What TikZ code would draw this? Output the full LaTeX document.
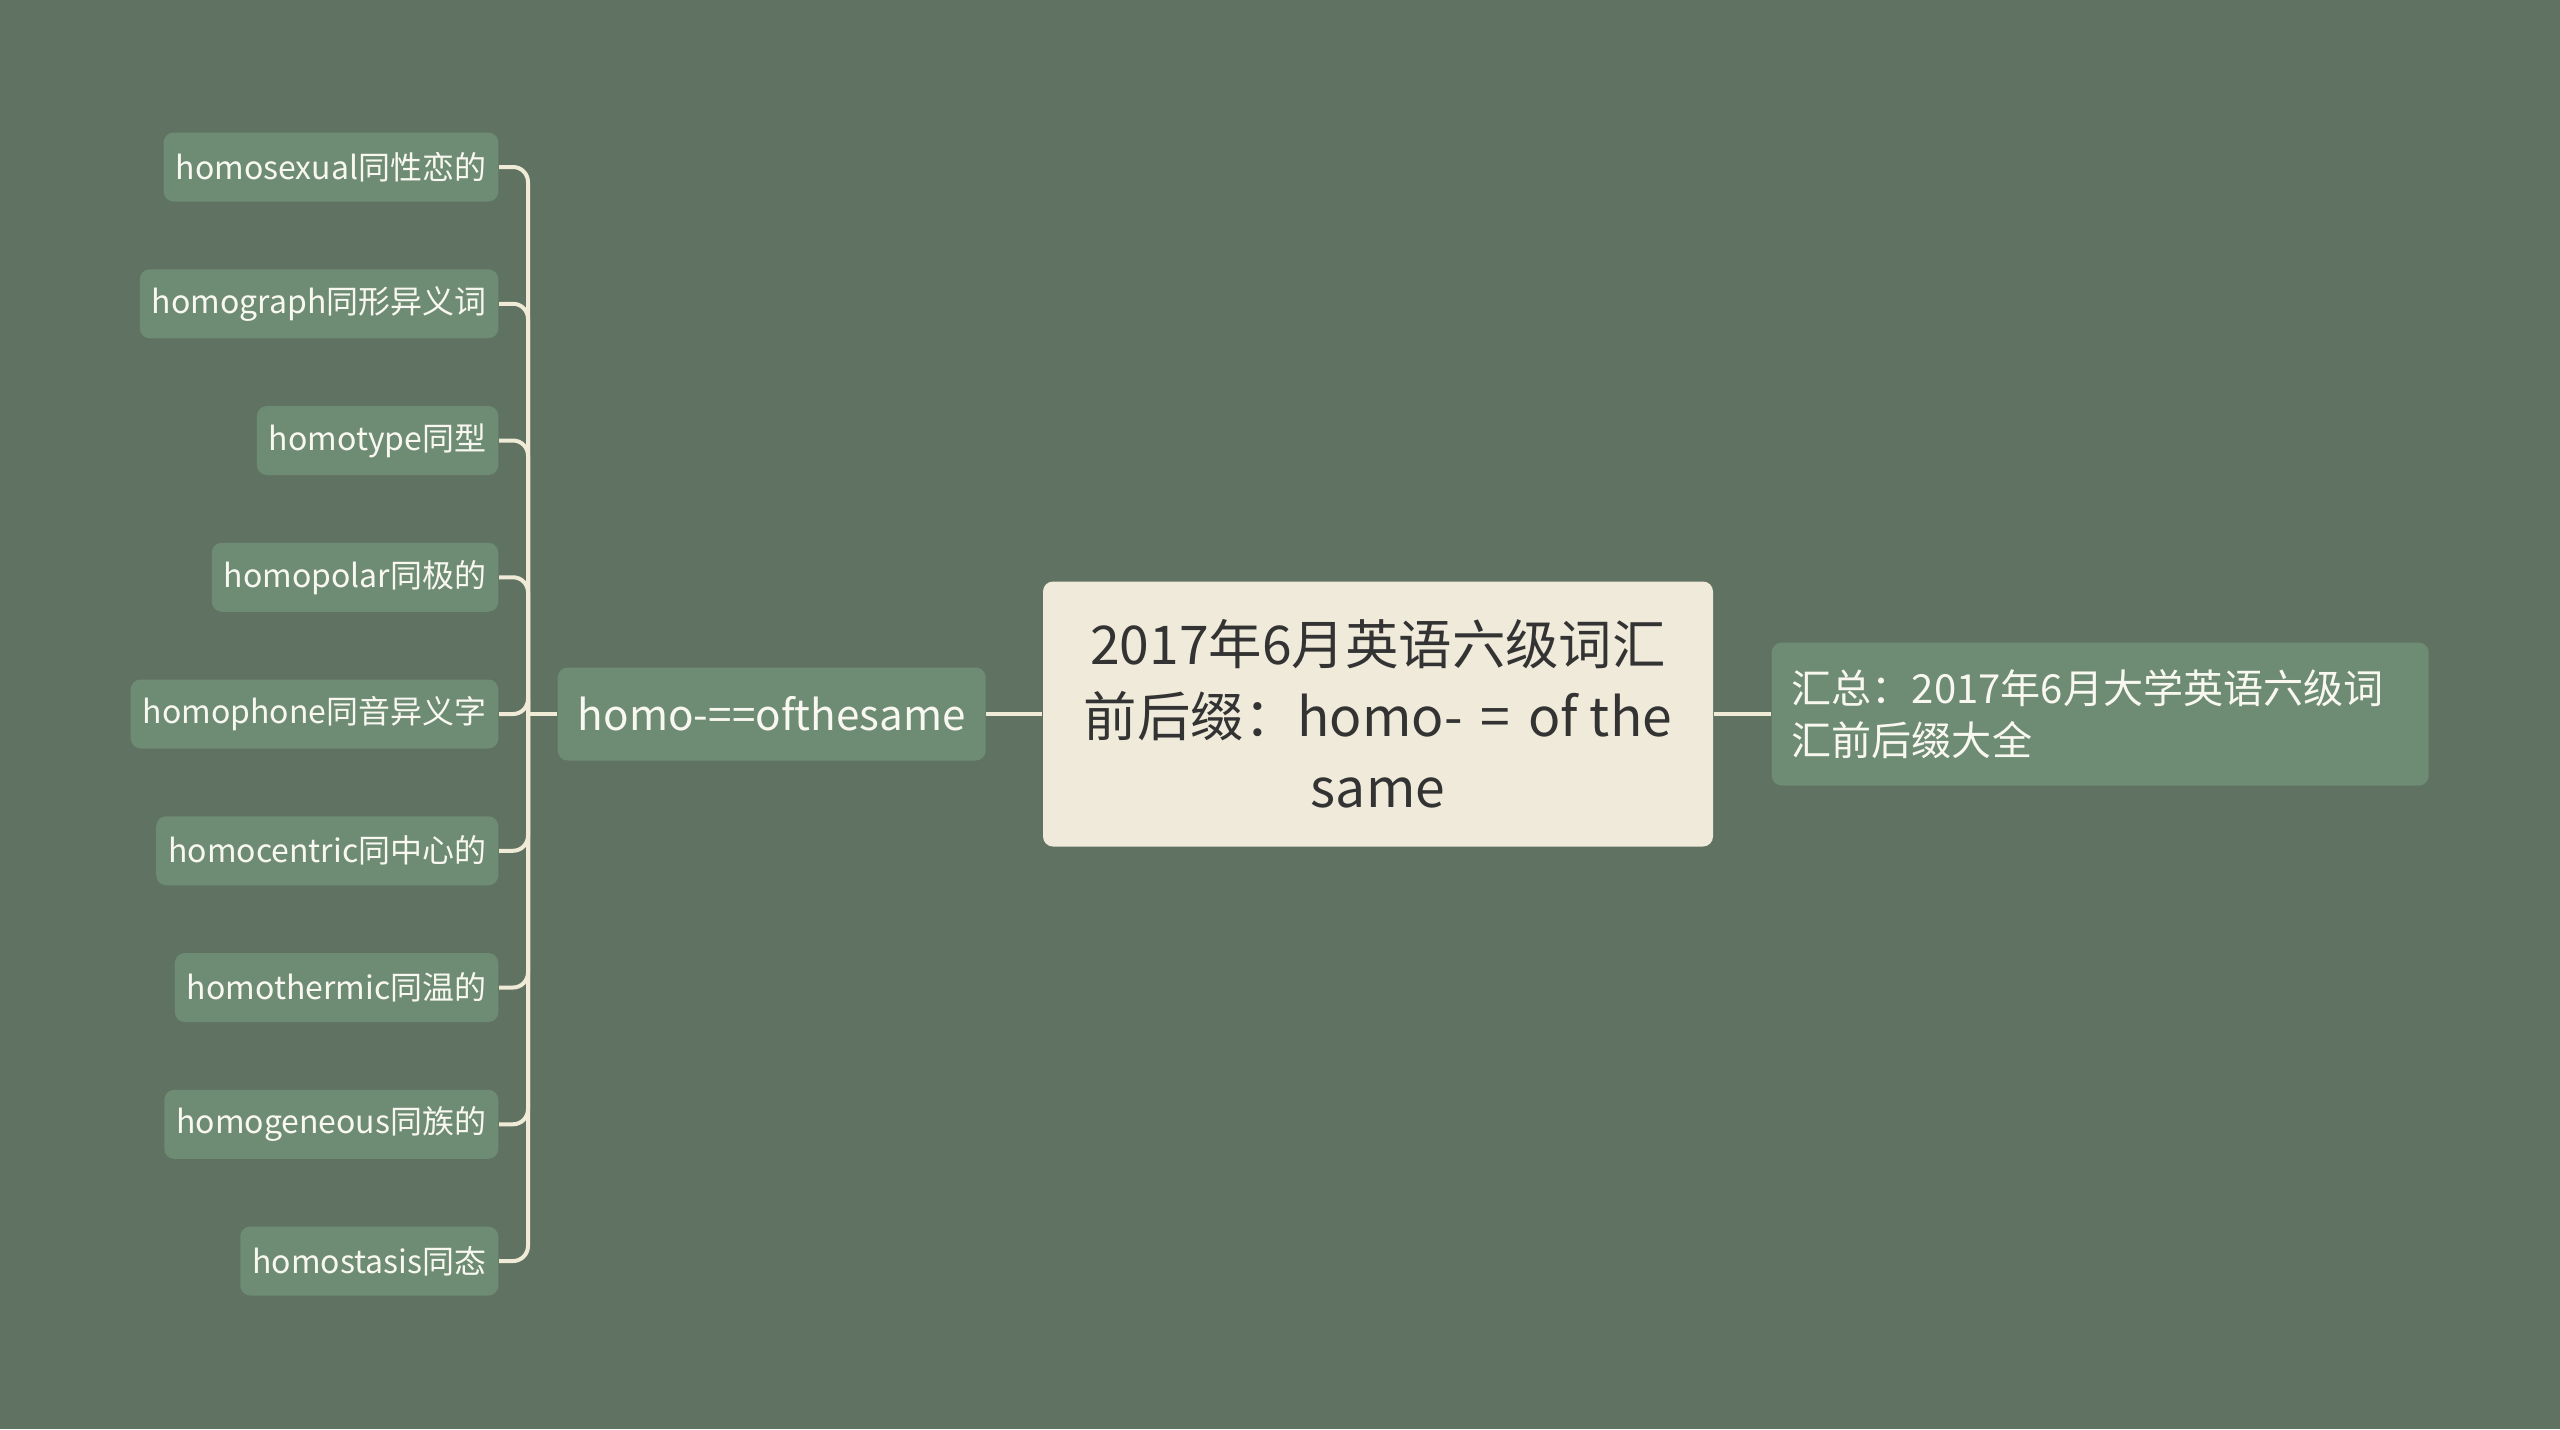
\documentclass[tikz,border=0pt]{standalone}
\usepackage{fontspec}
\setmainfont{Noto Sans CJK SC}
\usepackage{tikz}

\definecolor{bgcol}{RGB}{96,115,98}
\definecolor{boxcol}{RGB}{110,139,116}
\definecolor{rootcol}{RGB}{239,234,218}
\definecolor{linecol}{RGB}{240,235,215}
\definecolor{txtcol}{RGB}{248,248,240}
\definecolor{darktxt}{RGB}{51,51,51}

\tikzset{
  leaf/.style={fill=boxcol,rounded corners=1mm,text=txtcol,inner xsep=1.2mm,
    minimum height=6.9mm,anchor=east,font=\fontsize{9.1pt}{11pt}\selectfont},
  topic/.style={fill=boxcol,rounded corners=1mm,text=txtcol,inner xsep=2mm,
    minimum height=9.3mm,minimum width=42.8mm,anchor=west,font=\fontsize{12pt}{14pt}\selectfont},
  root/.style={fill=rootcol,rounded corners=1mm,text=darktxt,align=center,
    minimum width=67mm,minimum height=26.5mm,font=\fontsize{15.2pt}{20.4pt}\selectfont},
  note/.style={fill=boxcol,rounded corners=1mm,text=txtcol,align=left,inner xsep=2mm,
    text width=61.7mm,minimum height=14.3mm,anchor=west,font=\fontsize{11.4pt}{14.8pt}\selectfont},
  link/.style={draw=linecol,line width=0.4mm}
}

\begin{document}
\begin{tikzpicture}[x=0.1mm,y=-0.1mm]
\fill[bgcol] (0,0) rectangle (2560,1429);
\useasboundingbox (0,0) rectangle (2560,1429);

% centre and the two sides
\node[root] (root) at (1378,714) {2017年6月英语六级词汇\\前后缀：homo-\,\,=\,\,of the\\same};
\node[topic] (topic) at (557,714) {homo-==ofthesame};
\node[note] (note) at (1771,714) {汇总：2017年6月大学英语六级词\\汇前后缀大全};
\draw[link] (topic.east) -- (root.west);
\draw[link] (root.east) -- (note.west);

% the words
\coordinate (hub) at (528,714);
\foreach \i/\word in {1/homosexual同性恋的,2/homograph同形异义词,3/homotype同型,
  4/homopolar同极的,5/homophone同音异义字,6/homocentric同中心的,
  7/homothermic同温的,8/homogeneous同族的,9/homostasis同态}{
\node[leaf] (w\i) at (499,{167+(\i-1)*136.75}) {\word};
\draw[link,rounded corners=1.5mm] (w\i.east) -| (hub);}
\draw[link] (hub) -- (topic.west);

\end{tikzpicture}
\end{document}
